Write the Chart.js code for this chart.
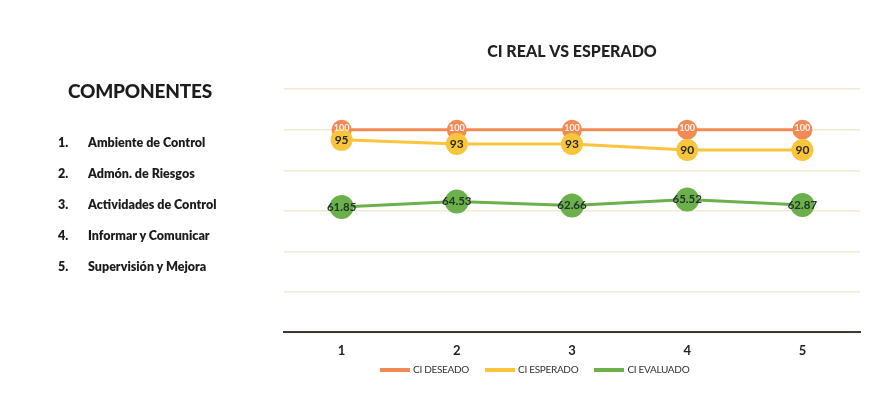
<!DOCTYPE html>
<html>
<head>
<meta charset="utf-8">
<script src="https://cdn.jsdelivr.net/npm/chart.js@4.4.1/dist/chart.umd.min.js"></script>
<style>
  body { margin:0; background:#fff; font-family:Lato, sans-serif; }
  #wrap { position:relative; width:879px; height:405px; }
  #chart-container { position:absolute; left:0; top:0; width:879px; height:405px; }
  #side { position:absolute; left:0; top:0; width:280px; height:405px; color:#1c1c1c; }
  #side h2 { position:absolute; left:68px; top:79px; margin:0; font-size:19px; font-weight:900; letter-spacing:-0.2px; }
  #side .item { position:absolute; left:58px; font-size:12.5px; font-weight:800; }
  #side .item span { display:inline-block; width:30px; }
  #legend { position:absolute; left:380px; top:363px; font-size:10px; color:#333; white-space:nowrap; letter-spacing:-0.3px; }
  #legend .key { display:inline-block; margin-right:16px; }
  #legend i { display:inline-block; width:30px; height:4px; vertical-align:middle; margin-right:3px; }
</style>
</head>
<body>
<div id="wrap">
  <div id="chart-container"><canvas id="c"></canvas></div>
  <div id="side">
    <h2>COMPONENTES</h2>
  </div>
  <div id="legend"></div>
</div>
<script>
var labels = ["1", "2", "3", "4", "5"];
var ciDeseado = [100, 100, 100, 100, 100];
var ciEsperado = [95, 93, 93, 90, 90];
var ciEvaluado = [61.85, 64.53, 62.66, 65.52, 62.87];
var componentes = ["Ambiente de Control", "Admón. de Riesgos", "Actividades de Control", "Informar y Comunicar", "Supervisión y Mejora"];

var side = document.querySelector("#side");
componentes.forEach(function(name, i){
    var d = document.createElement("div");
    d.className = "item";
    d.style.top = (135 + i*31) + "px";
    d.innerHTML = "<span>" + (i+1) + ".</span>" + name;
    side.append(d);
});

// draws the value inside each marker
var valueLabels = {
    id: "valueLabels",
    afterDatasetsDraw: function(chart){
        var ctx = chart.ctx;
        ctx.save();
        ctx.textAlign = "center";
        ctx.textBaseline = "middle";
        chart.data.datasets.forEach(function(ds, i){
            var meta = chart.getDatasetMeta(i);
            meta.data.forEach(function(pt, j){
                ctx.fillStyle = ds.labelColor;
                ctx.font = ds.labelFont;
                ctx.fillText(String(ds.data[j]), pt.x, pt.y + ds.labelShift);
            });
        });
        ctx.restore();
    }
};

var chart = new Chart(document.querySelector("#c"), {
    type: "line",
    data: {
        labels: labels,
        datasets: [
            {label:"CI DESEADO", data:ciDeseado, borderColor:"#f28a55", backgroundColor:"#f28a55",
             borderWidth:3, pointRadius:10, pointBorderWidth:0, order:2,
             labelColor:"#fff4ec", labelFont:"bold 9px Lato", labelShift:-2},
            {label:"CI ESPERADO", data:ciEsperado, borderColor:"#f8c53c", backgroundColor:"#f8c53c",
             borderWidth:3, pointRadius:11, pointBorderWidth:0, order:1,
             labelColor:"#2a2a1a", labelFont:"bold 12px Lato", labelShift:0},
            {label:"CI EVALUADO", data:ciEvaluado, borderColor:"#6bb04a", backgroundColor:"#6bb04a",
             borderWidth:3, pointRadius:12, pointBorderWidth:0, order:0,
             labelColor:"#22332a", labelFont:"bold 11.5px Lato", labelShift:0}
        ]
    },
    options: {
        responsive: true,
        maintainAspectRatio: false,
        animation: false,
        layout: { padding: { left:284, right:19, top:0, bottom:43 } },
        scales: {
            x: {
                offset: true,
                grid: { display:false, offset:true },
                border: { color:"#3a3a3a", width:2 },
                ticks: { color:"#222", font:{ family:"Lato", size:13, weight:"bold" }, padding:3 }
            },
            y: {
                min:0, max:120,
                ticks: { display:false, stepSize:20 },
                border: { display:false },
                grid: { color:"#f3ead0", lineWidth:1.5, drawTicks:false }
            }
        },
        plugins: {
            title: { display:true, text:"CI REAL VS ESPERADO", color:"#222",
                     font:{ family:"Lato", size:16, weight:"900" }, padding:{ top:42, bottom:28 } },
            legend: { display:false },
            tooltip: { enabled:false }
        }
    },
    plugins: [valueLabels]
});

// legend drawn from the chart's own datasets
var legend = document.querySelector("#legend");
chart.data.datasets.forEach(function(ds){
    var k = document.createElement("span");
    k.className = "key";
    k.innerHTML = '<i style="background:' + ds.borderColor + '"></i>' + ds.label;
    legend.append(k);
});
</script>
</body>
</html>
